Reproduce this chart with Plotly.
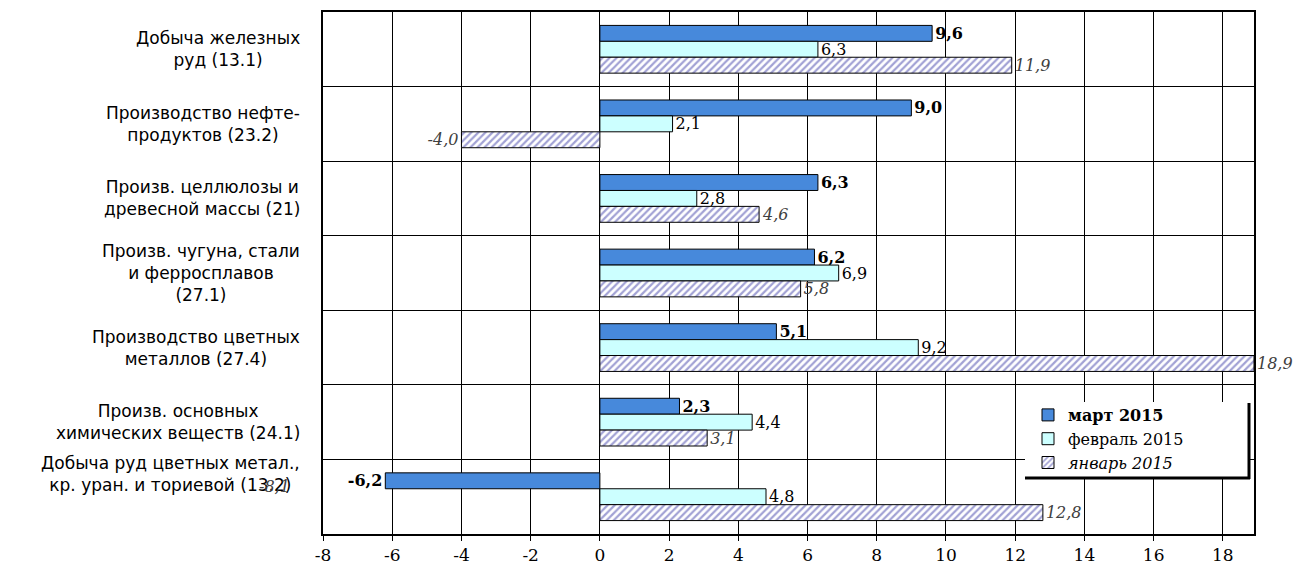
import plotly.graph_objects as go

categories = [
    "Добыча железных<br>руд (13.1)",
    "Производство нефте-<br>продуктов (23.2)",
    "Произв. целлюлозы и<br>древесной массы (21)",
    "Произв. чугуна, стали<br>и ферросплавов<br>(27.1)",
    "Производство цветных<br>металлов (27.4)",
    "Произв. основных<br>химических веществ (24.1)",
    "Добыча руд цветных метал.,<br>кр. уран. и ториевой (13.2)",
]
mar_2015 = [9.6, 9.0, 6.3, 6.2, 5.1, 2.3, -6.2]
feb_2015 = [6.3, 2.1, 2.8, 6.9, 9.2, 4.4, 4.8]
jan_2015 = [11.9, -4.0, 4.6, 5.8, 18.9, 3.1, 12.8]
series_names = ["<b>март 2015</b>", "февраль 2015", "<i>январь 2015</i>"]
x_ticks = [-8, -6, -4, -2, 0, 2, 4, 6, 8, 10, 12, 14, 16, 18]
x_tick_labels = [str(v) for v in x_ticks]
stray_label = "-8,1"

W, H = 1303, 568
ML, MR, MT, MB = 323, 49, 12, 34
PW, PH = W - ML - MR, H - MT - MB


def fmt(v):
    return f"{v:.1f}".replace(".", ",")


def px_x(p):
    return (p - ML) / PW


def px_y(p):
    return (H - MB - p) / PH


SERIF = "DejaVu Serif"
SANS = "DejaVu Sans"

fig = go.Figure()
fig.add_trace(go.Bar(
    y=categories, x=mar_2015, orientation="h", name=series_names[0],
    marker=dict(color="#4789db", line=dict(color="black", width=1)),
    text=[fmt(v) for v in mar_2015], textposition="outside",
    textfont=dict(family=SERIF, size=16, color="black", weight="bold"),
    constraintext="none", cliponaxis=False,
))
fig.add_trace(go.Bar(
    y=categories, x=feb_2015, orientation="h", name=series_names[1],
    marker=dict(color="#ccffff", line=dict(color="black", width=1)),
    text=[fmt(v) for v in feb_2015], textposition="outside",
    textfont=dict(family=SERIF, size=16, color="black"),
    constraintext="none", cliponaxis=False,
))
fig.add_trace(go.Bar(
    y=categories, x=jan_2015, orientation="h", name=series_names[2],
    marker=dict(color="white", line=dict(color="black", width=1),
                pattern=dict(shape="/", fgcolor="#4444aa", bgcolor="white",
                             size=5, solidity=0.45)),
    text=[fmt(v) for v in jan_2015], textposition="outside",
    textfont=dict(family=SERIF, size=16, color="#404040", style="italic"),
    constraintext="none", cliponaxis=False,
))

annotations = []
for i, c in enumerate(categories):
    annotations.append(dict(
        xref="paper", yref="y", x=0, y=c, xshift=-21,
        yshift=23 if i == len(categories) - 1 else 0,
        xanchor="right", yanchor="middle", align="center", showarrow=False,
        text=c, font=dict(family=SANS, size=17, color="black"),
    ))
annotations.append(dict(
    xref="paper", yref="y", x=px_x(274), y=categories[-1], yshift=10,
    xanchor="center", yanchor="middle", showarrow=False, text=stray_label,
    font=dict(family=SERIF, size=16, color="#404040", style="italic"),
))

shapes = [
    dict(type="rect", xref="paper", yref="paper", layer="above",
         x0=px_x(1025), x1=px_x(1248), y0=px_y(477), y1=px_y(402),
         fillcolor="white", line=dict(width=0)),
    dict(type="line", xref="paper", yref="paper", layer="above",
         x0=px_x(1249), x1=px_x(1249), y0=px_y(479), y1=px_y(403),
         line=dict(color="black", width=3)),
    dict(type="line", xref="paper", yref="paper", layer="above",
         x0=px_x(1025), x1=px_x(1250), y0=px_y(478), y1=px_y(478),
         line=dict(color="black", width=3)),
]

fig.update_layout(
    width=W, height=H,
    margin=dict(l=ML, r=MR, t=MT, b=MB, autoexpand=False),
    paper_bgcolor="white", plot_bgcolor="white",
    barmode="group", bargap=0.36, bargroupgap=0,
    showlegend=True,
    legend=dict(x=px_x(1028), y=px_y(398), xanchor="left", yanchor="top",
                bgcolor="rgba(0,0,0,0)", borderwidth=0,
                font=dict(family=SERIF, size=16, color="black"),
                tracegroupgap=0, itemwidth=30),
    annotations=annotations,
    shapes=shapes,
    xaxis=dict(range=[-8, 18.9], tickvals=x_ticks, ticktext=x_tick_labels,
               showgrid=True, gridcolor="black", gridwidth=1,
               zeroline=True, zerolinecolor="black", zerolinewidth=1,
               showline=True, linecolor="black", linewidth=1.5, mirror=True,
               ticks="outside", ticklen=5, tickcolor="black",
               tickfont=dict(family=SERIF, size=17, color="black"),
               automargin=False, fixedrange=True),
    yaxis=dict(type="category", range=[len(categories) - 0.5, -0.5],
               autorange=False, tickson="boundaries",
               showgrid=True, gridcolor="black", gridwidth=1,
               showticklabels=False, ticks="",
               showline=True, linecolor="black", linewidth=1.5, mirror=True,
               automargin=False, fixedrange=True),
)

fig.write_html("out.html", config={"displayModeBar": False},
               post_script="document.body.style.margin='0';"
                           "document.body.style.overflow='hidden';")
